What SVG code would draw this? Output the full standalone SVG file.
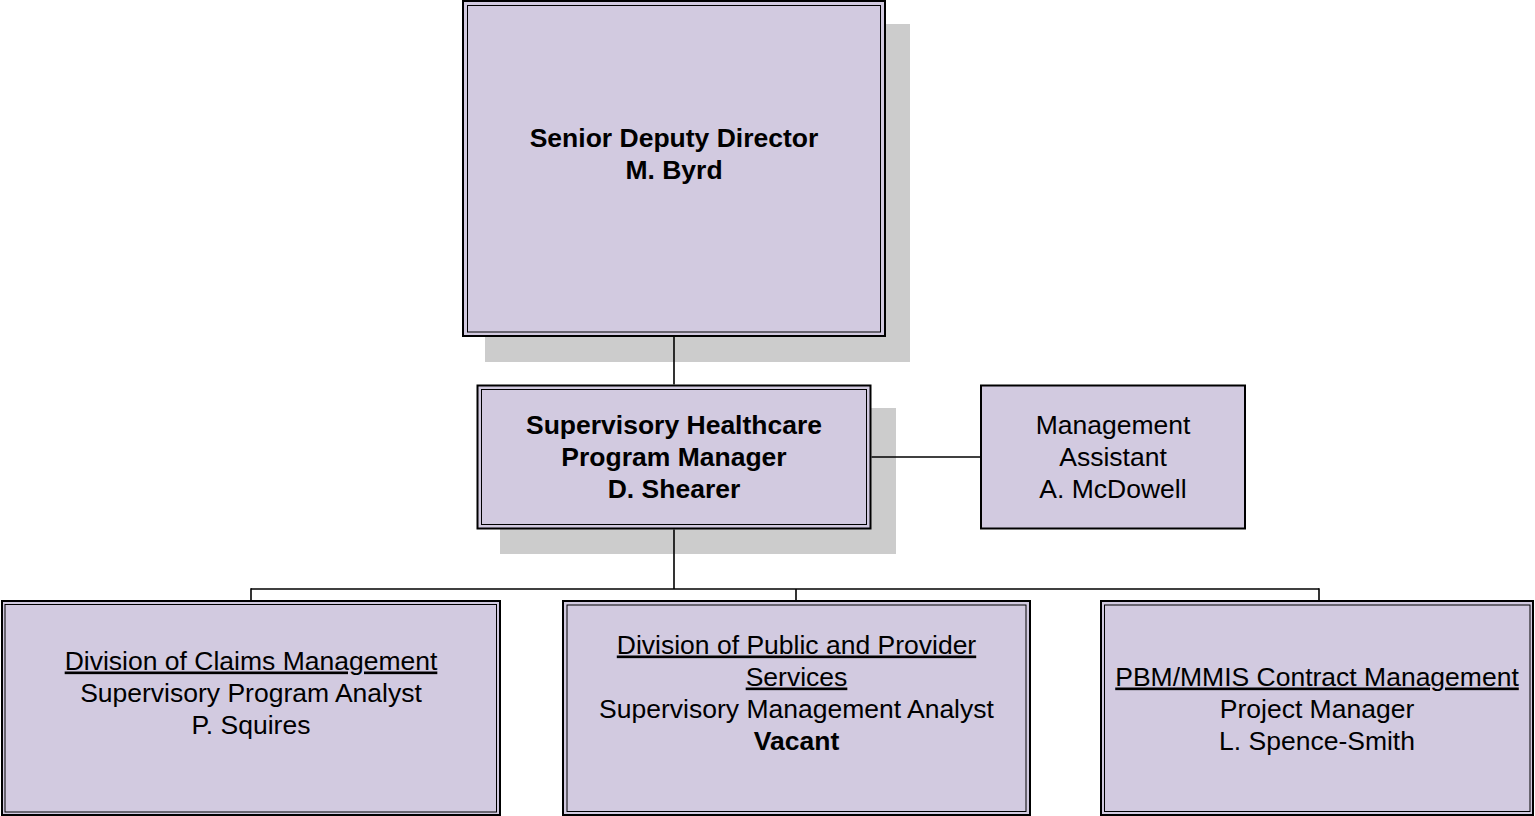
<svg xmlns="http://www.w3.org/2000/svg" width="1535" height="816" viewBox="0 0 1535 816">
<style>
.shadow{fill:#cccccc;stroke:none}
.outer{fill:#d2cae0;stroke:#000;stroke-width:2}
.inner{fill:none;stroke:#000;stroke-width:1}
.t{font-family:"Liberation Sans",Arial,sans-serif;font-size:26.5px;fill:#000;text-anchor:middle}
.b{font-weight:bold}
.u{text-decoration:underline}
.conn{stroke:#000;stroke-width:1.6;fill:none}
</style>
<rect x="0" y="0" width="1535" height="816" fill="#fff"/>
<g id="senior-deputy-director">
<rect class="shadow" x="485" y="24" width="425" height="338"/>
<rect class="outer" x="463" y="1" width="422" height="335"/>
<rect class="inner" x="467.5" y="5.5" width="413" height="326.5"/>
<text class="t b" x="674" y="146.5">Senior Deputy Director</text>
<text class="t b" x="674" y="178.5">M. Byrd</text>
</g>
<g id="program-manager">
<rect class="shadow" x="500" y="408" width="396" height="146"/>
<rect class="outer" x="477.5" y="385.5" width="393" height="143"/>
<rect class="inner" x="481.5" y="389.5" width="385" height="135"/>
<text class="t b" x="674" y="433.5">Supervisory Healthcare</text>
<text class="t b" x="674" y="465.5">Program Manager</text>
<text class="t b" x="674" y="497.5">D. Shearer</text>
</g>
<g id="management-assistant">
<rect class="outer" x="981" y="385.5" width="264" height="143"/>
<text class="t" x="1113" y="433.5">Management</text>
<text class="t" x="1113" y="465.5">Assistant</text>
<text class="t" x="1113" y="497.5">A. McDowell</text>
</g>
<g id="claims-management">
<rect class="outer" x="2" y="601" width="498" height="214"/>
<rect class="inner" x="5" y="604.5" width="491.5" height="207.5"/>
<text class="t u" x="251" y="669.5">Division of Claims Management</text>
<text class="t" x="251" y="701.5">Supervisory Program Analyst</text>
<text class="t" x="251" y="733.5">P. Squires</text>
</g>
<g id="public-provider-services">
<rect class="outer" x="563" y="601" width="467" height="214"/>
<rect class="inner" x="567" y="605" width="459" height="206.5"/>
<text class="t u" x="796.5" y="653.5">Division of Public and Provider</text>
<text class="t u" x="796.5" y="685.5">Services</text>
<text class="t" x="796.5" y="717.5">Supervisory Management Analyst</text>
<text class="t b" x="796.5" y="749.5">Vacant</text>
</g>
<g id="contract-management">
<rect class="outer" x="1101" y="601" width="432" height="214"/>
<rect class="inner" x="1104.5" y="605" width="425.5" height="206.5"/>
<text class="t u" x="1317" y="685.5">PBM/MMIS Contract Management</text>
<text class="t" x="1317" y="717.5">Project Manager</text>
<text class="t" x="1317" y="749.5">L. Spence-Smith</text>
</g>
<g id="connectors">
<line class="conn" x1="674" y1="337" x2="674" y2="384.5"/>
<line class="conn" x1="674" y1="529.5" x2="674" y2="589"/>
<line class="conn" x1="251" y1="589" x2="1319" y2="589"/>
<line class="conn" x1="251" y1="588.2" x2="251" y2="600"/>
<line class="conn" x1="796" y1="589" x2="796" y2="600"/>
<line class="conn" x1="1319" y1="588.2" x2="1319" y2="600"/>
<line class="conn" x1="871.5" y1="457" x2="980" y2="457"/>
</g>
</svg>
